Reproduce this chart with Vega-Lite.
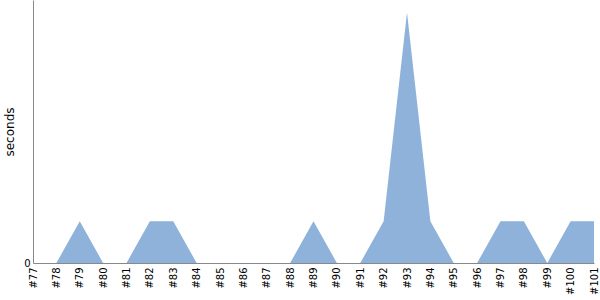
{
  "$schema": "https://vega.github.io/schema/vega-lite/v6.json",
  "autosize": "none",
  "padding": {"left": 33, "top": 0, "right": 6, "bottom": 37},
  "width": 561,
  "height": 263,
  "config": {
    "view": {"stroke": null},
    "font": "DejaVu Sans",
    "axis": {"domainColor": "#888888", "ticks": false, "grid": false, "labelColor": "#000000", "labelFontSize": 10, "titleColor": "#000000", "titleFontWeight": "normal"}
  },
  "data": {
    "values": [
      {"build": "#77", "seconds": 0},
      {"build": "#78", "seconds": 0},
      {"build": "#79", "seconds": 1},
      {"build": "#80", "seconds": 0},
      {"build": "#81", "seconds": 0},
      {"build": "#82", "seconds": 1},
      {"build": "#83", "seconds": 1},
      {"build": "#84", "seconds": 0},
      {"build": "#85", "seconds": 0},
      {"build": "#86", "seconds": 0},
      {"build": "#87", "seconds": 0},
      {"build": "#88", "seconds": 0},
      {"build": "#89", "seconds": 1},
      {"build": "#90", "seconds": 0},
      {"build": "#91", "seconds": 0},
      {"build": "#92", "seconds": 1},
      {"build": "#93", "seconds": 6},
      {"build": "#94", "seconds": 1},
      {"build": "#95", "seconds": 0},
      {"build": "#96", "seconds": 0},
      {"build": "#97", "seconds": 1},
      {"build": "#98", "seconds": 1},
      {"build": "#99", "seconds": 0},
      {"build": "#100", "seconds": 1},
      {"build": "#101", "seconds": 1}
    ]
  },
  "mark": {"type": "area", "color": "#8fb2db", "opacity": 1},
  "encoding": {
    "x": {
      "field": "build",
      "type": "ordinal",
      "sort": null,
      "scale": {"type": "point", "padding": 0},
      "axis": {"title": null, "labelAngle": -90, "labelPadding": 4, "labelAlign": "right", "labelBaseline": "middle"}
    },
    "y": {
      "field": "seconds",
      "type": "quantitative",
      "scale": {"domain": [0, 6.3], "nice": false, "zero": true},
      "axis": {"title": "seconds", "values": [0], "labelPadding": 3, "titleFontSize": 12, "titlePadding": 7}
    }
  }
}
